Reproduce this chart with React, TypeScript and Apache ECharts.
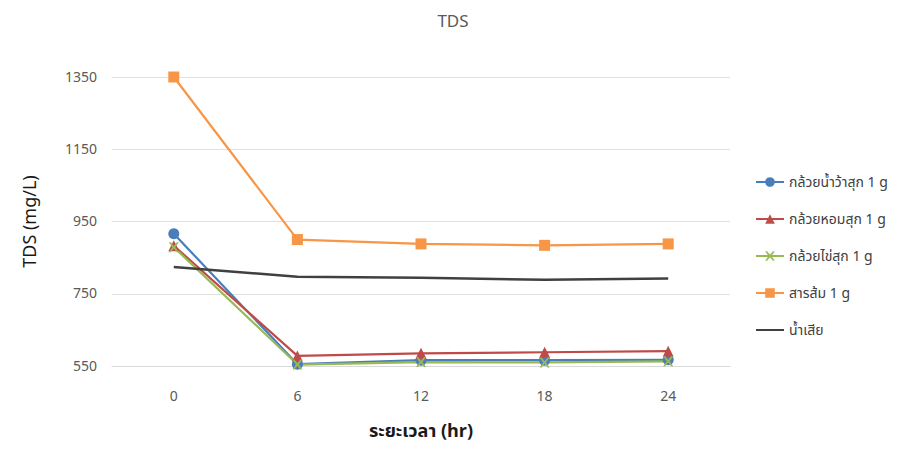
import React, { useEffect, useRef } from "react";
import * as echarts from "echarts";

const categories = ["0", "6", "12", "18", "24"];
const seriesNames = [
  "กล้วยน้ำว้าสุก 1 g",
  "กล้วยหอมสุก 1 g",
  "กล้วยไข่สุก 1 g",
  "สารส้ม 1 g",
  "น้ำเสีย",
];
const namwa = [916, 555, 566, 566, 567];
const hom = [883, 578, 585, 588, 591];
const khai = [879, 554, 561, 560, 563];
const alum = [1350, 900, 888, 884, 888];
const wastewater = [824, 797, 794, 789, 792];
const yTicks = { min: 550, max: 1350, interval: 200 };

const FONT = "'Noto Sans Thai', 'Noto Sans', Tahoma, 'DejaVu Sans', sans-serif";
const X_SYMBOL =
  "path://M0,0 L2,0 L5,3 L8,0 L10,0 L6.5,4 L10,8 L8,8 L5,5 L2,8 L0,8 L3.5,4 Z";

export default function App() {
  const ref = useRef<HTMLDivElement>(null);
  useEffect(() => {
    if (!ref.current) return;
    const chart = echarts.init(ref.current, undefined, { renderer: "svg" });
    const mk = (
      name: string,
      data: number[],
      color: string,
      symbol: string,
      size: number,
      width = 2.2
    ) => ({
      name,
      type: "line",
      data,
      symbol,
      symbolSize: size,
      showSymbol: symbol !== "none",
      lineStyle: { color, width },
      itemStyle: { color },
      emphasis: { disabled: true },
    });
    chart.setOption({
      animation: false,
      textStyle: { fontFamily: FONT },
      title: {
        text: "TDS",
        left: "center",
        top: 0,
        textStyle: { color: "#595959", fontSize: 17, fontWeight: "normal", fontFamily: FONT },
      },
      grid: {
        left: 104,
        right: 168,
        top: 69,
        bottom: 79,
        containLabel: false,
        outerBoundsMode: "none",
      },
      legend: {
        orient: "vertical",
        left: 742,
        top: 162,
        itemGap: 23,
        itemWidth: 28,
        itemHeight: 12,
        textStyle: { color: "#404040", fontSize: 14, fontFamily: FONT },
        data: [
          seriesNames[0],
          seriesNames[1],
          seriesNames[2],
          seriesNames[3],
          { name: seriesNames[4], itemStyle: { opacity: 0 } },
        ],
      },
      xAxis: {
        type: "category",
        data: categories,
        boundaryGap: true,
        axisLine: { show: true, lineStyle: { color: "#d9d9d9" } },
        axisTick: { show: false },
        axisLabel: { color: "#595959", fontSize: 14, margin: 23 },
        name: "ระยะเวลา (hr)",
        nameLocation: "middle",
        nameGap: 56,
        nameTextStyle: { color: "#1a1a1a", fontSize: 18, fontWeight: "bold", fontFamily: FONT },
      },
      yAxis: {
        type: "value",
        min: yTicks.min,
        max: yTicks.max,
        interval: yTicks.interval,
        axisLine: { show: false },
        axisTick: { show: false },
        splitLine: { lineStyle: { color: "#e0e0e0", width: 1 } },
        axisLabel: { color: "#595959", fontSize: 14, margin: 15, formatter: (v: number) => String(v) },
        name: "TDS (mg/L)",
        nameLocation: "middle",
        nameGap: 73,
        nameTextStyle: { color: "#1a1a1a", fontSize: 18, fontFamily: FONT },
      },
      series: [
        mk(seriesNames[0], namwa, "#4a7ebb", "circle", 11),
        mk(seriesNames[1], hom, "#be4b48", "triangle", 11),
        mk(seriesNames[2], khai, "#98b954", X_SYMBOL, 10),
        mk(seriesNames[3], alum, "#f79646", "rect", 11),
        mk(seriesNames[4], wastewater, "#404040", "none", 0, 2.5),
      ],
    });
    return () => chart.dispose();
  }, []);
  return <div ref={ref} style={{ width: 890, height: 437 }} />;
}
